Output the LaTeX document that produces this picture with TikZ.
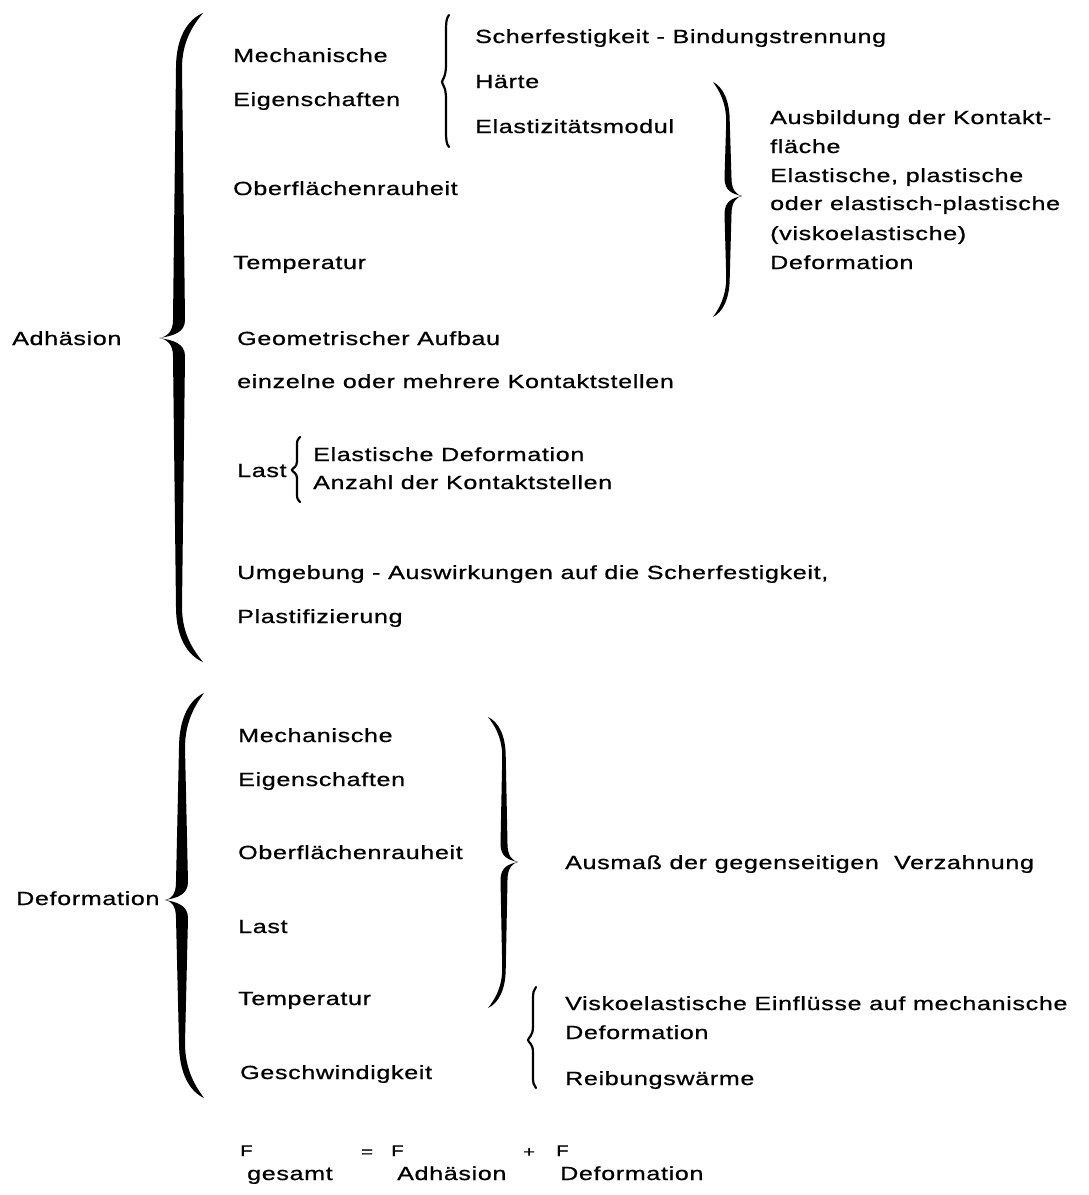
\documentclass[tikz,border=0pt]{standalone}
\usepackage{fontspec}
\setmainfont{Liberation Sans}[FakeStretch=1.32,LetterSpace=3.5,FakeBold=0.8]
\newcommand\fbrace[9]{%
 \pgfmathsetmacro\bt{#2-#3}%
 \pgfmathsetmacro\bb{#4-#3}%
 \pgfmathsetmacro\bh{#9/2}%
 \pgfmathsetmacro\bho{#9/4}%
 \pgfmathsetmacro\bd{#6}%
 \pgfmathsetmacro\be{#7}%
 \pgfmathsetmacro\bl{#8}%
 \pgfmathsetmacro\bdd{min(18,0.3*(#3-#2))}%
 \begin{scope}[shift={(#1,#3)},xscale=#5]
 \fill (\be,\bt) .. controls ({0.35*\be},{\bt+0.12*\bl}) and ({-\bho},{\bt+0.45*\bl}) .. ({-\bho},{\bt+\bl})
   -- ({-\bh},{-\bdd}) .. controls ({-\bh},{-0.35*\bdd}) and ({-0.6*\bd},-1) .. ({-\bd},0)
   .. controls ({-0.6*\bd},1) and ({-\bh},{0.35*\bdd}) .. ({-\bh},{\bdd})
   -- ({-\bho},{\bb-\bl}) .. controls ({-\bho},{\bb-0.45*\bl}) and ({0.35*\be},{\bb-0.12*\bl}) .. (\be,\bb)
   .. controls ({0.5*\be+\bho},{\bb-0.2*\bl}) and ({\bho},{\bb-0.5*\bl}) .. ({\bho},{\bb-\bl})
   -- ({\bh},{\bdd}) .. controls ({\bh},{0.3*\bdd}) and ({-0.3*\bd},2) .. ({-\bd},0)
   .. controls ({-0.3*\bd},-2) and ({\bh},{-0.3*\bdd}) .. ({\bh},{-\bdd})
   -- ({\bho},{\bt+\bl}) .. controls ({\bho},{\bt+0.5*\bl}) and ({0.5*\be+\bho},{\bt+0.2*\bl}) .. (\be,\bt) -- cycle;
 \end{scope}}
\newcommand\tbrace[6]{%
 \pgfmathsetmacro\bt{#2-#3}%
 \pgfmathsetmacro\bb{#4-#3}%
 \pgfmathsetmacro\bq{0.25*(#3-#2)}%
 \pgfmathsetmacro\bqq{0.25*(#4-#3)}%
 \begin{scope}[shift={(#1,#3)},xscale=#5]
 \draw[thinbr] (3,\bt) .. controls (0.5,{\bt+3}) and (0,{\bt+0.4*\bq}) .. (0,{\bt+\bq})
   -- (0,{-\bq}) .. controls (0,{-0.3*\bq}) and ({-#6},-2) .. ({-#6},0)
   .. controls ({-#6},2) and (0,{0.3*\bqq}) .. (0,{\bqq})
   -- (0,{\bb-\bqq}) .. controls (0,{\bb-0.4*\bqq}) and (0.5,{\bb-3}) .. (3,\bb);
 \end{scope}}
\begin{document}
\begin{tikzpicture}[x=1pt,y=-1pt,
  txt/.style={anchor=base west,inner sep=0pt,font=\fontsize{19}{23}\selectfont},
  small/.style={anchor=base west,inner sep=0pt,font=\fontsize{15.5}{18}\selectfont},
  thinbr/.style={line width=2.2pt,line cap=round}]
\fill[white] (0,0) rectangle (1088,1195);
\useasboundingbox (0,0) rectangle (1088,1195);

% ---------- Adhaesion ----------
\node[txt] (adh) at (12,345) {Adhäsion};
\fbrace{179}{13}{338}{662}{1}{20}{24}{55}{12}
\node[txt] (m1) at (233,62) {Mechanische};
\node[txt] (e1) at (233,106) {Eigenschaften};
\tbrace{446}{15}{82}{147}{1}{4}
\node[txt] (sch) at (475,43) {Scherfestigkeit - Bindungstrennung};
\node[txt] (ha) at (475,88) {Härte};
\node[txt] (el) at (475,133) {Elastizitätsmodul};
\node[txt] (o1) at (233,195) {Oberflächenrauheit};
\node[txt] (t1) at (233,269) {Temperatur};
\fbrace{728}{82}{196}{317}{-1}{14}{15}{40}{7}
\node[txt] (r1) at (770,124) {Ausbildung der Kontakt-};
\node[txt] (r2) at (770,153) {fläche};
\node[txt] (r3) at (770,182) {Elastische, plastische};
\node[txt] (r4) at (770,210) {oder elastisch-plastische};
\node[txt] (r5) at (770,240) {(viskoelastische)};
\node[txt] (r6) at (770,269) {Deformation};
\node[txt] (geo) at (237,345) {Geometrischer Aufbau};
\node[txt] (ein) at (237,388) {einzelne oder mehrere Kontaktstellen};
\node[txt] (l1) at (237,477) {Last};
\tbrace{297}{437}{470}{502}{1}{5}
\node[txt] (l1a) at (313,461) {Elastische Deformation};
\node[txt] (l1b) at (313,489) {Anzahl der Kontaktstellen};
\node[txt] (umg) at (237,579) {Umgebung\ - Auswirkungen auf die Scherfestigkeit,};
\node[txt] (pla) at (237,623) {Plastifizierung};

% ---------- Deformation ----------
\node[txt] (def) at (16,905) {Deformation};
\fbrace{182}{693}{900}{1098}{1}{17}{22}{55}{12}
\node[txt] (m2) at (238,742) {Mechanische};
\node[txt] (e2) at (238,786) {Eigenschaften};
\node[txt] (o2) at (238,859) {Oberflächenrauheit};
\node[txt] (l2) at (238,933) {Last};
\node[txt] (t2) at (238,1005) {Temperatur};
\node[txt] (g2) at (240,1079) {Geschwindigkeit};
\fbrace{504}{717}{862}{1008}{-1}{14}{16}{40}{7}
\node[txt] (aus) at (565,869) {Ausmaß der gegenseitigen\ \ Verzahnung};
\tbrace{533}{987}{1040}{1088}{1}{5}
\node[txt] (v1) at (565,1010) {Viskoelastische Einflüsse auf mechanische};
\node[txt] (v2) at (565,1039) {Deformation};
\node[txt] (rw) at (565,1085) {Reibungswärme};

% ---------- Formel ----------
\node[small] (f1) at (240,1156) {F};
\node[txt] (s1) at (247,1180) {gesamt};
\node[small] (eq) at (361,1157) {=};
\node[small] (f2) at (391,1156) {F};
\node[txt] (s2) at (397,1180) {Adhäsion};
\node[small] (pl) at (523,1157) {+};
\node[small] (f3) at (556,1156) {F};
\node[txt] (s3) at (560,1180) {Deformation};
\end{tikzpicture}
\end{document}
